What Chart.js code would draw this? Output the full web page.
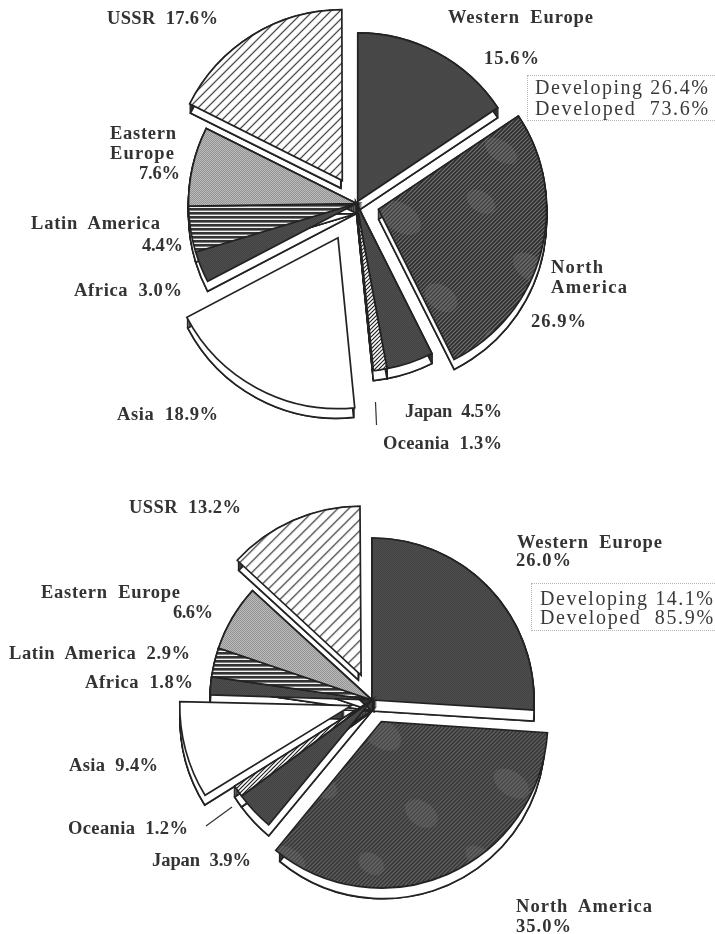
<!DOCTYPE html>
<html><head><meta charset="utf-8">
<style>
html,body{margin:0;padding:0;background:#fff;overflow:hidden;width:715px;height:934px}
canvas{position:absolute}
.t{position:absolute;font:bold 18.5px "Liberation Serif",serif;word-spacing:5px;color:#333;white-space:pre;transform:translateY(-50%);line-height:1}
.d{font:20px "Liberation Serif",serif;color:#3a3a3a;word-spacing:0}
.b{position:absolute;border:1px dotted #b5b5b5;border-right:none;box-sizing:border-box}
svg{position:absolute;left:0;top:0}
</style>
<script src="https://cdn.jsdelivr.net/npm/chart.js@4"></script>
</head><body>
<canvas id="c1" width="399" height="447" style="left:157px;top:-20px"></canvas>
<canvas id="c2" width="444" height="440" style="left:150px;top:480px"></canvas>
<svg width="715" height="934"><line x1="375.5" y1="402" x2="376.5" y2="425" stroke="#333" stroke-width="1.2"/><line x1="206" y1="826" x2="232" y2="807" stroke="#333" stroke-width="1.2"/></svg>

<div class="t" data-r="218" style="left:107px;top:18px">USSR 17.6%</div>
<div class="t" data-r="593" style="left:448px;top:17px">Western Europe</div>
<div class="t" data-r="539" style="left:484px;top:58px">15.6%</div>
<div class="t" data-r="176" style="left:110px;top:133px">Eastern</div>
<div class="t" data-r="174" style="left:110px;top:153px">Europe</div>
<div class="t" data-r="180" style="left:139px;top:173px">7.6%</div>
<div class="t" data-r="160" style="left:31px;top:223px">Latin America</div>
<div class="t" data-r="183" style="left:142px;top:245px">4.4%</div>
<div class="t" data-r="182" style="left:74px;top:290px">Africa 3.0%</div>
<div class="t" data-r="218" style="left:117px;top:414px">Asia 18.9%</div>
<div class="t" data-r="502" style="left:405px;top:411px">Japan 4.5%</div>
<div class="t" data-r="502" style="left:383px;top:443px">Oceania 1.3%</div>
<div class="t" data-r="603" style="left:551px;top:267px">North</div>
<div class="t" data-r="627" style="left:551px;top:287px">America</div>
<div class="t" data-r="586" style="left:531px;top:321px">26.9%</div>
<div class="b" style="left:527px;top:75px;width:188px;height:46px"></div>
<div class="t d" data-r="708" style="left:535px;top:87px">Developing 26.4%</div>
<div class="t d" data-r="708" style="left:535px;top:108px">Developed  73.6%</div>

<div class="t" data-r="241" style="left:129px;top:507px">USSR 13.2%</div>
<div class="t" data-r="662" style="left:517px;top:542px">Western Europe</div>
<div class="t" data-r="571" style="left:516px;top:560px">26.0%</div>
<div class="t" data-r="180" style="left:41px;top:592px">Eastern Europe</div>
<div class="t" data-r="213" style="left:173px;top:612px">6.6%</div>
<div class="t" data-r="190" style="left:9px;top:653px">Latin America 2.9%</div>
<div class="t" data-r="193" style="left:85px;top:682px">Africa 1.8%</div>
<div class="t" data-r="158" style="left:69px;top:765px">Asia 9.4%</div>
<div class="t" data-r="188" style="left:68px;top:828px">Oceania 1.2%</div>
<div class="t" data-r="251" style="left:152px;top:860px">Japan 3.9%</div>
<div class="t" data-r="652" style="left:516px;top:906px">North America</div>
<div class="t" data-r="571" style="left:516px;top:926px">35.0%</div>
<div class="b" style="left:531px;top:583px;width:184px;height:48px"></div>
<div class="t d" data-r="713" style="left:540px;top:598px">Developing 14.1%</div>
<div class="t d" data-r="713" style="left:540px;top:617px">Developed  85.9%</div>

<script>
const regions = ["Western Europe","North America","Japan","Oceania","Asia","Africa","Latin America","Eastern Europe","USSR"];
const valuesTop = [15.6,26.9,4.5,1.3,18.9,3.0,4.4,7.6,17.6];
const valuesBottom = [26.0,35.0,3.9,1.2,9.4,1.8,2.9,6.6,13.2];
const explodeTop = [10,91,0,0,156,0,0,0,108];
const explodeBottom = [0,94,0,0,86,0,0,0,108];

document.querySelectorAll('.t').forEach(el=>{
  const left=parseFloat(el.style.left), target=+el.dataset.r-left;
  const natural=el.getBoundingClientRect().width, n=el.textContent.length;
  el.style.letterSpacing=((target-natural)/(n-1)).toFixed(2)+'px';
});

function tile(w,h,draw){
  const c=document.createElement('canvas');c.width=w;c.height=h;
  const x=c.getContext('2d');draw(x,w,h);
  return x.createPattern(c,'repeat');
}
function diagLines(x,w,h,step,fg,lw){
  x.strokeStyle=fg;x.lineWidth=lw;x.beginPath();
  for(let k=-step;k<=w+h+step;k+=step){x.moveTo(k,-1);x.lineTo(k-h-2,h+1);}
  x.stroke();
}
function diag(step,bg,fg,lw){
  const n=step*4;
  return tile(n,n,(x,w,h)=>{x.fillStyle=bg;x.fillRect(0,0,w,h);diagLines(x,w,h,step,fg,lw);});
}
function horiz(step,bg,fg,lw){
  return tile(4,step,(x,w,h)=>{x.fillStyle=bg;x.fillRect(0,0,w,h);x.fillStyle=fg;x.fillRect(0,0,w,lw);});
}
function stipple(a,b){
  return tile(2,2,(x)=>{x.fillStyle=a;x.fillRect(0,0,2,2);x.fillStyle=b;x.fillRect(0,0,1,1);x.fillRect(1,1,1,1);});
}
function blotched(spots){
  return tile(192,192,(x,w,h)=>{
    x.fillStyle='#7c7c7c';x.fillRect(0,0,w,h);
    diagLines(x,w,h,4,'#2a2a2a',1.7);
    x.fillStyle='rgba(120,120,120,0.3)';
    spots.forEach(s=>{x.beginPath();x.ellipse(s[0],s[1],s[2],s[3],0.6,0,7);x.fill();});
  });
}
const dark = stipple('#4c4c4c','#444444');
const light = stipple('#bababa','#949494');
const latin = horiz(4,'#f0f0f0','#333333',2.6);
const naSpots = [[30,40,22,14],[110,24,16,10],[160,90,20,12],[70,120,18,12],[130,165,18,10],[20,170,14,10]];
const fillsTop = [dark,blotched(naSpots),dark,diag(4,'#fff','#222',1.2),'#ffffff',dark,latin,light,diag(9,'#fff','#222',1.1)];
const fillsBottom = [dark,blotched(naSpots),dark,diag(4,'#fff','#222',1.2),'#ffffff',dark,latin,light,diag(11,'#fff','#222',1.1)];

const rimPlugin = {
  id:'rim',
  beforeDatasetsDraw(chart,args,opts){
    const ctx=chart.ctx, arcs=chart.getDatasetMeta(0).data;
    arcs.forEach(a=>{
      const off=(a.options.offset||0)/4;
      const fix=1-Math.sin(Math.min(Math.PI,a.circumference));
      const half=(a.startAngle+a.endAngle)/2;
      const cx=a.x+Math.cos(half)*off*(1+fix), cy=a.y+Math.sin(half)*off*(1+fix);
      const wedge=d=>{ctx.beginPath();ctx.moveTo(cx,cy+d);ctx.arc(cx,cy+d,a.outerRadius,a.startAngle,a.endAngle);ctx.closePath();};
      ctx.lineWidth=1.7;ctx.strokeStyle='#222';ctx.fillStyle='#fff';
      for(let d=0;d<=opts.depth;d++){wedge(d);ctx.stroke();ctx.fill();}
      wedge(opts.depth);ctx.stroke();
    });
  }
};
function pie(id,values,fills,explode,radius,depth){
  new Chart(document.getElementById(id),{
    type:'pie',
    data:{labels:regions,datasets:[{data:values,backgroundColor:fills,borderColor:'#222',borderWidth:1.7,borderAlign:'center',borderJoinStyle:'miter',offset:explode}]},
    options:{responsive:false,animation:false,devicePixelRatio:1,radius:radius,
      layout:{padding:0},
      plugins:{legend:{display:false},tooltip:{enabled:false},title:{display:false},rim:{depth:depth}},
      events:[]},
    plugins:[rimPlugin]
  });
}
pie('c1',valuesTop,fillsTop,explodeTop,168,10);
pie('c2',valuesBottom,fillsBottom,explodeBottom,162,11);
</script>
</body></html>
